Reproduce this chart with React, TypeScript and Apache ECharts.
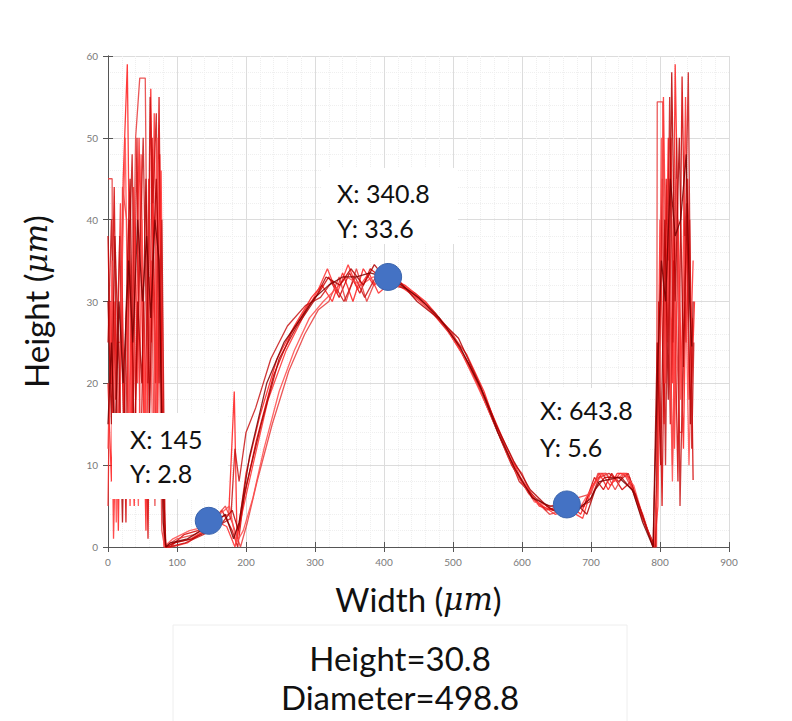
import React, { useEffect, useRef } from "react";
import * as echarts from "echarts";

const xTicks = [0, 900, 100];
const yTicks = [0, 60, 10];

const traceA = [[0,20],[5,8],[10,30],[15,2],[22,45],[28,59],[33,20],[38,5],[45,50],[50,25],[55,2],[62,56],[66,30],[70,10],[75,48],[80,5],[84,0],
  [95,0.5],[120,1],[140,2],[160,3.5],[175,4],[183,19],[187,1],[200,9],[220,16],[245,23],[270,27],[295,30.5],[310,32],[325,30],[340,33.5],[355,30],[370,34],[385,32],[405,33],[430,32],[460,30],[490,27],[520,23.5],[545,19],[570,13],[600,8],[625,5],[645,4.5],[665,5.5],[685,4],[700,7],[712,9],[725,7],[738,9],[752,9],[768,5],[782,2],[792,0],
  [796,10],[800,40],[806,15],[812,50],[818,20],[822,59],[828,30],[834,12],[840,45],[846,20],[850,30]];
const traceB = [[0,38],[4,20],[9,44],[14,10],[20,35],[26,3],[31,40],[36,15],[42,50],[47,8],[52,30],[58,1],[64,50],[69,20],[74,55],[79,10],[83,0],
  [90,0],[110,1.5],[130,2],[150,3],[165,4.5],[180,2],[188,0],[197,6],[215,13],[240,21],[265,26],[290,29.5],[305,31],[320,33],[335,30.5],[350,33.5],[365,31],[380,34],[395,33],[420,32],[445,31],[475,28.5],[505,25],[535,20],[560,15],[585,10],[610,6.5],[635,4.5],[655,5],[675,4.5],[690,5],[705,8.5],[718,7],[730,9],[745,7],[758,8],[770,5],[784,1.5],[794,0],
  [798,30],[803,5],[809,45],[815,15],[820,35],[826,8],[832,57.5],[838,25],[843,40],[848,8.2]];
const traceC = [[0,45],[6,45],[7,8],[12,8],[13,25],[20,25],[21,44],[27,40],[33,10],[40,50],[46,57.3],[54,57.3],[58,20],[63,35],[68,5],[72,40],[78,2],[82,0],
  [100,1],[125,1.5],[150,3],[170,5],[180,3],[192,0],[202,3],[216,8],[238,15],[262,21.5],[285,26],[305,29],[320,30],[335,33],[345,30],[360,34],[375,30],[390,33],[415,33],[440,31],[470,29],[500,26],[530,21],[555,16],[580,11],[600,9],[615,6],[640,4],[660,4.5],[680,6],[700,6.5],[710,9],[722,9],[735,7],[748,9],[760,7],[775,4],[790,0],
  [795,0],[796,54.4],[804,54.4],[808,20],[813,40],[818,10],[823,30],[828,14],[832,14],[836,30]];
const traceD = [[0,15],[5,25],[10,12],[16,30],[22,20],[30,35],[36,25],[43,40],[50,30],[56,38],[62,28],[68,40],[74,35],[80,3],[84,0],
  [90,0.5],[115,1],[135,2],[155,3],[170,4],[182,1],[190,3],[205,11],[230,20],[255,25],[280,28],[300,30.5],[320,32],[340,33],[360,33],[380,33.5],[400,33],[425,32],[450,30.5],[480,28],[510,24.5],[540,19.5],[565,14],[590,9.5],[615,6],[640,5],[660,5],[680,4.5],[700,6],[712,8],[740,8.5],[760,7],[775,3],[790,0],
  [796,20],[802,35],[808,30],[815,45],[822,38],[830,40],[838,48],[843,30],[846,24.5]];
const traceE = [[0,5],[4,30],[8,1],[13,20],[18,42],[23,15],[27,30],[32,5],[37,44],[43,20],[48,48],[53,12],[59,45],[63,25],[67,53],[72,15],[77,46],[82,0],
  [92,0],[115,0.5],[140,2],[160,3],[172,2.5],[184,0],[194,4],[210,10],[232,18],[258,24],[285,28.5],[305,31.5],[318,34],[332,31],[348,34.5],[362,31.5],[378,33.5],[392,31],[412,32.5],[438,31],[466,29],[496,26],[526,22],[553,17],[576,12.5],[598,8.5],[622,5.5],[648,4],[668,4.5],[688,3.5],[702,7.5],[716,9],[728,7.5],[742,9],[756,8.5],[772,4],[792,0],
  [797,5],[801,30],[805,55],[810,25],[816,50],[821,12],[826,40],[831,20],[837,55],[842,18],[848,35]];
const traceF = [[0,25],[5,40],[11,18],[17,38],[24,8],[30,33],[35,48],[40,18],[46,35],[51,50],[57,20],[61,55],[65,42],[70,53],[74,20],[78,40],[83,0],
  [88,0],[112,0.5],[138,1.5],[158,2.5],[178,3.5],[184,12],[190,8],[200,14],[214,17],[236,23],[260,27],[286,29.5],[308,30.5],[325,32.5],[342,30],[358,33],[372,30.5],[388,33],[410,32],[435,31.5],[462,29.5],[492,26.5],[522,22.5],[548,18],[572,13],[596,8],[620,6],[644,4.5],[664,4],[684,5],[698,5.5],[712,8.5],[726,9],[740,8],[754,9],[766,6],[780,2.5],[793,0],
  [798,15],[803,45],[808,10],[814,55],[819,25],[824,50],[829,5],[835,30],[841,58],[846,12],[849,25]];
const traceG = [[0,12],[6,35],[12,3],[18,25],[25,50],[31,12],[37,28],[44,5],[49,40],[54,15],[60,33],[66,8],[71,50],[76,22],[81,0],
  [94,1],[118,2],[142,2.5],[162,4],[176,5],[186,0.5],[196,2],[210,6],[226,12],[248,19],[270,24],[292,28],[312,30],[330,31.5],[346,33],[366,32],[384,33],[404,32.5],[428,32],[452,30.5],[484,27.5],[514,23.5],[542,18.5],[568,13.5],[592,9],[618,5.5],[642,5],[662,5.5],[682,4.5],[696,6.5],[708,8],[720,9],[734,8],[748,9],[762,7.5],[776,3.5],[791,0],
  [797,8],[802,50],[807,20],[812,35],[818,8],[824,45],[830,18],[836,38],[842,10],[847,28]];
const traceH = [[0,30],[5,15],[10,38],[16,22],[21,3],[26,28],[32,45],[38,10],[43,30],[49,20],[55,45],[60,15],[65,35],[70,45],[75,30],[80,8],[84,0],
  [96,0.5],[122,1],[146,2],[166,3],[180,4.5],[189,2],[199,7],[222,15],[248,23],[274,27],[298,30],[316,33],[336,32],[352,34],[370,32],[386,34.5],[400,33],[422,32.5],[448,30],[478,28],[508,25.5],[538,20],[562,15],[588,10.5],[612,7],[636,5],[656,4],[676,5.5],[694,4],[706,7],[720,8.5],[744,8.5],[764,6.5],[778,3],[790,0],
  [796,25],[801,10],[807,40],[812,18],[817,58],[822,30],[828,50],[834,22],[839,42],[844,15],[848,30]];

const traces = [traceA, traceB, traceC, traceE, traceF, traceG, traceH, traceD];
const traceColors = ["#ff1a1a", "#d40000", "#e83a3a", "#ff2b2b", "#c81414", "#ff4a4a", "#b00000", "#7a0000"];

const markerPoints = [[146, 3.2], [406, 33], [665, 5.2]];
const annotations = [
  { lines: ["X: 145", "Y: 2.8"], box: [112, 413, 116, 86], tx: 130, ty: [439, 473] },
  { lines: ["X: 340.8", "Y: 33.6"], box: [322, 168, 136, 76], tx: 337, ty: [193, 228] },
  { lines: ["X: 643.8", "Y: 5.6"], box: [528, 388, 122, 82], tx: 540, ty: [410, 447] },
];
const summaryLines = ["Height=30.8", "Diameter=498.8"];

const FONT = "Lato, 'Open Sans', sans-serif";

export default function App() {
  const ref = useRef<HTMLDivElement>(null);
  useEffect(() => {
    document.body.style.margin = "0";
    const chart = echarts.init(ref.current!, null, { renderer: "svg" });
    const axisCommon = {
      type: "value" as const,
      axisLine: { show: true, lineStyle: { color: "#555", width: 1 } },
      axisTick: { show: true, inside: true, length: 5, lineStyle: { color: "#555" } },
    };
    const graphics: any[] = [];
    annotations.forEach((a) => {
      graphics.push({ type: "rect", z: 100, shape: { x: a.box[0], y: a.box[1], width: a.box[2], height: a.box[3] }, style: { fill: "#ffffff" } });
      a.lines.forEach((t, i) => {
        graphics.push({ type: "text", z: 101, x: a.tx, y: a.ty[i], style: { text: t, font: `25px ${FONT}`, fill: "#111", verticalAlign: "middle", textAlign: "left" } });
      });
    });
    graphics.push({ type: "rect", z: 1, shape: { x: 173, y: 625, width: 454, height: 100 }, style: { fill: "#fff", stroke: "#eeeeee", lineWidth: 1 } });
    summaryLines.forEach((t, i) => {
      graphics.push({ type: "text", z: 101, x: 400, y: 658 + i * 39, style: { text: t, font: `33px ${FONT}`, fill: "#111", textAlign: "center", verticalAlign: "middle" } });
    });
    const richName = {
      t: { fontSize: 33, fontFamily: FONT, color: "#111" },
      m: { fontSize: 31, fontFamily: "'DejaVu Serif', serif", fontStyle: "italic", color: "#111" },
    };

    chart.setOption({
      animation: false,
      backgroundColor: "#ffffff",
      grid: { left: 108, top: 56, width: 621, height: 491 },
      xAxis: [
        {
          ...axisCommon,
          min: xTicks[0], max: xTicks[1], interval: xTicks[2],
          position: "bottom",
          axisLabel: { color: "#7a7a7a", fontSize: 10, margin: 10, fontFamily: FONT },
          splitLine: { show: true, lineStyle: { color: "#dcdcdc", width: 1 } },
          minorTick: { show: true, splitNumber: 5, length: 0 },
          minorSplitLine: { show: true, lineStyle: { color: "#efefef", width: 1, type: "dotted" } },
          name: "{t|Width (}{m|μm}{t|)}",
          nameLocation: "middle",
          nameGap: 35,
          nameTextStyle: { rich: richName },
        },
        { ...axisCommon, min: xTicks[0], max: xTicks[1], interval: xTicks[2], position: "top", axisLabel: { show: false }, splitLine: { show: false } },
      ],
      yAxis: [
        {
          ...axisCommon,
          min: yTicks[0], max: yTicks[1], interval: yTicks[2],
          position: "left",
          axisLabel: { color: "#7a7a7a", fontSize: 10, margin: 10, fontFamily: FONT },
          splitLine: { show: true, lineStyle: { color: "#dcdcdc", width: 1 } },
          minorTick: { show: true, splitNumber: 5, length: 0 },
          minorSplitLine: { show: true, lineStyle: { color: "#efefef", width: 1, type: "dotted" } },
          name: "{t|Height (}{m|μm}{t|)}",
          nameLocation: "middle",
          nameGap: 56,
          nameRotate: 90,
          nameTextStyle: { rich: richName },
        },
        { ...axisCommon, min: yTicks[0], max: yTicks[1], interval: yTicks[2], position: "right", axisLabel: { show: false }, splitLine: { show: false } },
      ],
      series: [
        ...traces.map((tr, i) => ({
          type: "line",
          data: tr,
          showSymbol: false,
          clip: true,
          lineStyle: { color: traceColors[i], width: 1.3, opacity: 0.85 },
          z: 2 + i,
        })),
        {
          type: "scatter",
          data: markerPoints,
          symbolSize: 27,
          itemStyle: { color: "#4472c4", borderColor: "#3a64ad", borderWidth: 1, opacity: 1 },
          z: 20,
        },
      ],
      graphic: graphics,
    });
    return () => chart.dispose();
  }, []);
  return <div ref={ref} style={{ position: "fixed", left: 0, top: 0, width: 792, height: 721 }} />;
}
